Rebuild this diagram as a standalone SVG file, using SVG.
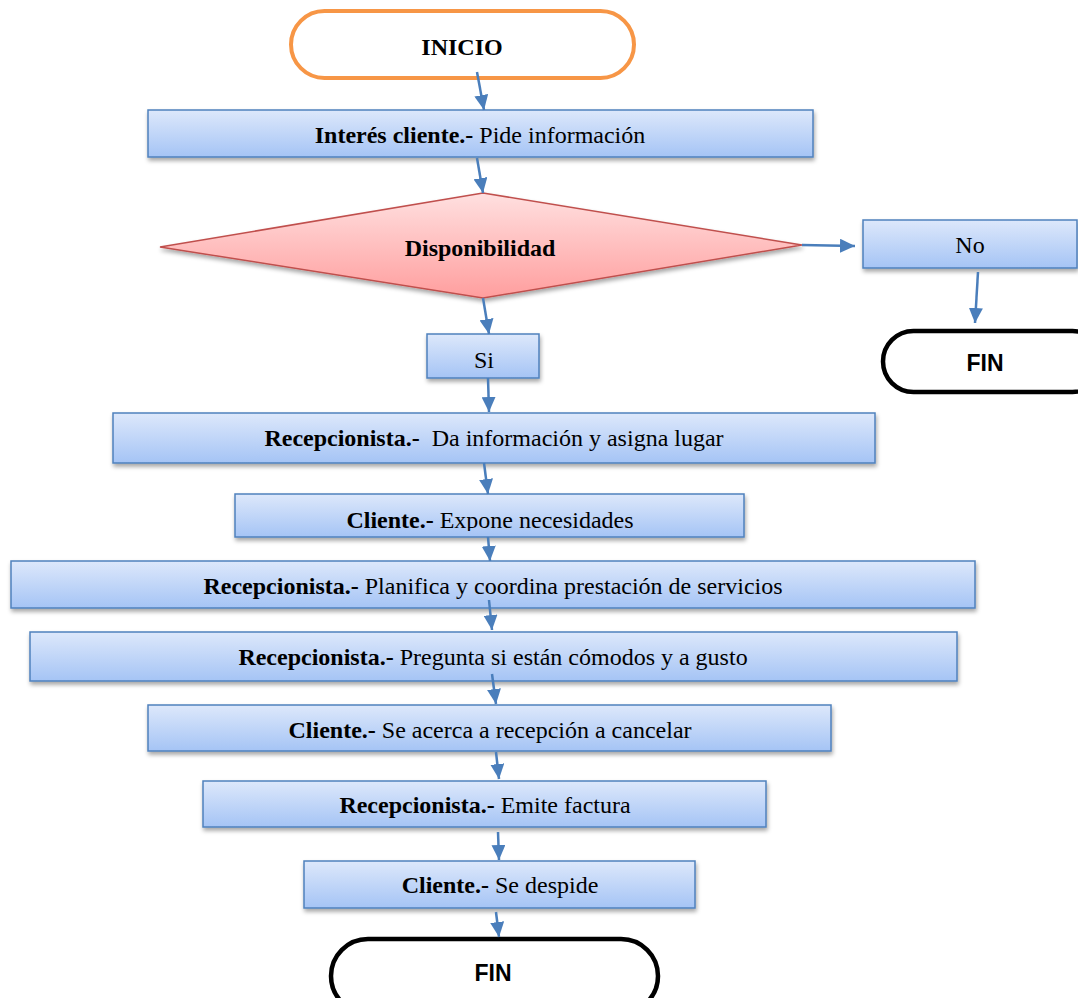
<svg xmlns="http://www.w3.org/2000/svg" width="1078" height="998" viewBox="0 0 1078 998">
<defs>
<linearGradient id="gBlue" x1="0" y1="0" x2="0" y2="1">
<stop offset="0" stop-color="#DDE8FB"/>
<stop offset="1" stop-color="#A5C4F5"/>
</linearGradient>
<linearGradient id="gRed" x1="0" y1="0" x2="0" y2="1">
<stop offset="0" stop-color="#FFE0E0"/>
<stop offset="1" stop-color="#FF9E9E"/>
</linearGradient>
<filter id="sh" x="-5%" y="-20%" width="110%" height="150%">
<feDropShadow dx="1" dy="3" stdDeviation="2" flood-color="#000" flood-opacity="0.35"/>
</filter>
<clipPath id="clipC1"><rect x="235" y="494" width="509" height="37"/></clipPath>
<marker id="ah" markerUnits="userSpaceOnUse" markerWidth="16" markerHeight="14" refX="15" refY="7" orient="auto">
<path d="M0,0 L15,7 L0,14 z" fill="#4A7EBB"/>
</marker>
<style>
.box{fill:url(#gBlue);stroke:#4F81BD;stroke-width:1.5;filter:url(#sh)}
.t{font-family:"Liberation Serif","Times New Roman",serif;font-size:24px;fill:#000;text-anchor:middle}
.b{font-weight:bold}
.fin{fill:#fff;stroke:#000;stroke-width:4.5}
.ft{font-family:"Liberation Sans",Arial,sans-serif;font-size:23px;font-weight:bold;text-anchor:middle}
.c{stroke:#4A7EBB;stroke-width:2.5;fill:none;marker-end:url(#ah)}
</style>
</defs>
<rect width="1078" height="998" fill="#fff"/>

<g id="inicio">
<rect x="291" y="11" width="343" height="67" rx="33.5" fill="#fff" stroke="#F79646" stroke-width="4"/>
<text class="t b" x="462" y="55">INICIO</text>
</g>

<g id="interes">
<rect class="box" x="148" y="110" width="665" height="47"/>
<text class="t" x="480" y="143"><tspan class="b">Interés cliente.-</tspan> Pide información</text>
</g>

<g id="disponibilidad">
<polygon points="160,247 483,193 802,245 483,298" fill="url(#gRed)" stroke="#C0504D" stroke-width="1.5" filter="url(#sh)"/>
<text class="t b" x="480" y="256">Disponibilidad</text>
</g>

<g id="no">
<rect class="box" x="863" y="220" width="214" height="48"/>
<text class="t" x="970" y="253">No</text>
</g>

<g id="fin1">
<rect class="fin" x="883" y="331" width="220" height="61" rx="30.5"/>
<text class="ft" x="985" y="371">FIN</text>
</g>

<g id="si">
<rect class="box" x="427" y="334" width="112" height="44"/>
<text class="t" x="484" y="368">Si</text>
</g>

<g id="recep1">
<rect class="box" x="113" y="413" width="762" height="50"/>
<text class="t" x="494" y="446"><tspan class="b">Recepcionista.-</tspan>&#160; Da información y asigna lugar</text>
</g>

<g id="cliente1">
<rect class="box" x="235" y="494" width="509" height="43"/>
<text class="t" x="490" y="528" clip-path="url(#clipC1)"><tspan class="b">Cliente.-</tspan> Expone necesidades</text>
</g>

<g id="recep2">
<rect class="box" x="11" y="561" width="964" height="47"/>
<text class="t" x="493" y="594"><tspan class="b">Recepcionista.-</tspan> Planifica y coordina prestación de servicios</text>
</g>

<g id="recep3">
<rect class="box" x="30" y="632" width="927" height="49"/>
<text class="t" x="493" y="665"><tspan class="b">Recepcionista.-</tspan> Pregunta si están cómodos y a gusto</text>
</g>

<g id="cliente2">
<rect class="box" x="148" y="705" width="683" height="46"/>
<text class="t" x="490" y="738"><tspan class="b">Cliente.-</tspan> Se acerca a recepción a cancelar</text>
</g>

<g id="recep4">
<rect class="box" x="203" y="781" width="563" height="46"/>
<text class="t" x="485" y="813"><tspan class="b">Recepcionista.-</tspan> Emite factura</text>
</g>

<g id="cliente3">
<rect class="box" x="304" y="861" width="391" height="47"/>
<text class="t" x="500" y="893"><tspan class="b">Cliente.-</tspan> Se despide</text>
</g>

<g id="fin2">
<rect class="fin" x="331" y="939" width="327" height="74" rx="37"/>
<text class="ft" x="493" y="981">FIN</text>
</g>

<g id="connectors">
<line class="c" x1="477" y1="72" x2="484" y2="110"/>
<line class="c" x1="477" y1="158" x2="483" y2="193"/>
<line class="c" x1="802" y1="245" x2="855" y2="246"/>
<line class="c" x1="978" y1="272" x2="975" y2="323"/>
<line class="c" x1="483" y1="298" x2="489" y2="334"/>
<line class="c" x1="488" y1="378" x2="489" y2="412"/>
<line class="c" x1="484" y1="463" x2="488" y2="494"/>
<line class="c" x1="488" y1="537" x2="490" y2="561"/>
<line class="c" x1="489" y1="600" x2="492" y2="630"/>
<line class="c" x1="492" y1="674" x2="496" y2="704"/>
<line class="c" x1="496" y1="752" x2="499" y2="779"/>
<line class="c" x1="498" y1="832" x2="499" y2="860"/>
<line class="c" x1="496" y1="912" x2="499" y2="937"/>
</g>
</svg>
